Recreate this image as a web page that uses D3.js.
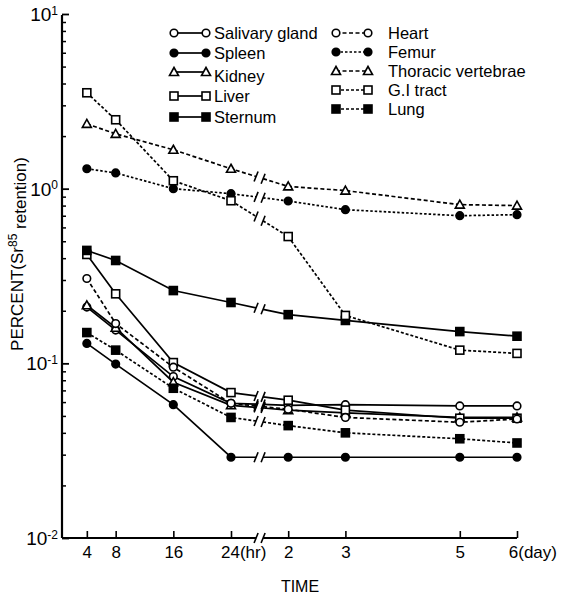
<!DOCTYPE html>
<html>
<head>
<meta charset="utf-8">
<script src="https://cdn.jsdelivr.net/npm/d3@7"></script>
<style>
  body { margin: 0; background: #fff; }
  text { font-family: "Liberation Sans", Arial, sans-serif; fill: #000; }
</style>
</head>
<body>
<svg id="chart" width="561" height="598"></svg>
<script>
// sampling times in hours (4,8,16,24 hr then 2,3,5,6 day)
var times = [4, 8, 16, 24, 48, 72, 120, 144];
var tickLabels = ["4", "8", "16", "24", "2", "3", "5", "6"];
var tickSuffix = ["", "", "", "(hr)", "", "", "", "(day)"];

var seriesNames = ["Salivary gland", "Spleen", "Kidney", "Liver", "Sternum",
                   "Heart", "Femur", "Thoracic vertebrae", "G.I tract", "Lung"];

var salivary = [0.21, 0.155, 0.084, 0.059, 0.0575, 0.058, 0.057, 0.057];
var spleen   = [0.13, 0.099, 0.058, 0.029, 0.029, 0.029, 0.029, 0.029];
var kidney   = [0.215, 0.16, 0.078, 0.0575, 0.054, 0.052, 0.049, 0.049];
var liver    = [0.42, 0.25, 0.101, 0.068, 0.0615, 0.054, 0.0485, 0.0485];
var sternum  = [0.443, 0.388, 0.261, 0.223, 0.19, 0.176, 0.152, 0.143];
var heart    = [0.306, 0.169, 0.095, 0.059, 0.0546, 0.049, 0.046, 0.048];
var femur    = [1.3, 1.23, 1.0, 0.936, 0.85, 0.758, 0.70, 0.71];
var thoracic = [2.35, 2.06, 1.67, 1.30, 1.03, 0.975, 0.81, 0.80];
var gitract  = [3.54, 2.48, 1.11, 0.853, 0.532, 0.188, 0.119, 0.114];
var lung     = [0.150, 0.119, 0.072, 0.049, 0.044, 0.040, 0.037, 0.035];

var seriesValues = [salivary, spleen, kidney, liver, sternum,
                    heart, femur, thoracic, gitract, lung];

// symbol / line style per series
var styles = [
  {sym: "circle", fill: "#fff", dash: null},
  {sym: "circle", fill: "#000", dash: null},
  {sym: "triangle", fill: "#fff", dash: null},
  {sym: "square", fill: "#fff", dash: null},
  {sym: "square", fill: "#000", dash: null},
  {sym: "circle", fill: "#fff", dash: "4,2.5"},
  {sym: "circle", fill: "#000", dash: "2.5,2"},
  {sym: "triangle", fill: "#fff", dash: "4,2.5"},
  {sym: "square", fill: "#fff", dash: "3,2"},
  {sym: "square", fill: "#000", dash: "3,2"}
];

var svg = d3.select("#chart");

// broken time axis: hours up to 24, then days
var x = d3.scaleLinear().domain([0, 24, 144]).range([58, 231, 517]);
var y = d3.scaleLog().domain([0.01, 10]).range([538, 14]);

var axisX0 = 62, axisY0 = 538;
var bx = (x(24) + x(48)) / 2;
var gap = 3.5;

function slash(g, cx, cy) {
  g.append("line")
    .attr("x1", cx - 2).attr("y1", cy + 5)
    .attr("x2", cx + 2).attr("y2", cy - 5)
    .attr("stroke", "#000").attr("stroke-width", 1.6);
}

// ---- y axis
var yMinor = [];
[0.01, 0.1, 1].forEach(function(d) {
  for (var m = 2; m <= 9; m++) yMinor.push(d * m);
});

svg.append("g")
  .attr("transform", "translate(" + axisX0 + ",0)")
  .call(d3.axisLeft(y).tickValues(yMinor).tickSizeInner(-4).tickSizeOuter(0).tickFormat(""))
  .call(function(g) { g.select(".domain").remove(); })
  .selectAll("line").attr("stroke-width", 1.5);

var yMajor = svg.append("g")
  .attr("transform", "translate(" + axisX0 + ",0)")
  .call(d3.axisLeft(y).tickValues([0.01, 0.1, 1, 10]).tickSizeInner(-7).tickSizeOuter(0).tickPadding(4));
yMajor.select(".domain").remove();
yMajor.selectAll("line").attr("stroke-width", 1.8);
yMajor.selectAll("text")
  .style("font-size", "19px")
  .attr("dy", "0.35em")
  .each(function(d) {
    var t = d3.select(this).text("");
    t.append("tspan").text("10");
    t.append("tspan").attr("dy", "-0.55em").style("font-size", "12px")
      .text(String(Math.round(Math.log10(d))));
  });

svg.append("line")
  .attr("x1", axisX0).attr("x2", axisX0)
  .attr("y1", y(10) + 1).attr("y2", axisY0)
  .attr("stroke", "#000").attr("stroke-width", 2.2);

// ---- x axis (drawn in two pieces around the break)
var xAxis = svg.append("g")
  .attr("transform", "translate(0," + axisY0 + ")")
  .call(d3.axisBottom(x).tickValues(times).tickSizeInner(-7).tickSizeOuter(0).tickPadding(8)
    .tickFormat(function(d, i) { return tickLabels[i]; }));
xAxis.select(".domain").remove();
xAxis.selectAll("line").attr("stroke-width", 1.6);
xAxis.selectAll("text")
  .style("font-size", "17px")
  .each(function(d, i) {
    if (tickSuffix[i]) {
      var t = d3.select(this);
      var w = this.getComputedTextLength();
      t.attr("text-anchor", "start").attr("x", -w / 2 - (i === 7 ? 4 : 1));
      t.append("tspan").text(tickSuffix[i]);
    }
  });

svg.append("line")
  .attr("x1", axisX0).attr("x2", bx - gap)
  .attr("y1", axisY0).attr("y2", axisY0)
  .attr("stroke", "#000").attr("stroke-width", 2.2);
svg.append("line")
  .attr("x1", bx + gap).attr("x2", x(144))
  .attr("y1", axisY0).attr("y2", axisY0)
  .attr("stroke", "#000").attr("stroke-width", 2.2);
slash(svg, bx - gap, axisY0);
slash(svg, bx + gap, axisY0);

// ---- axis titles
svg.append("text")
  .attr("x", 300).attr("y", 592)
  .attr("text-anchor", "middle")
  .style("font-size", "16px")
  .text("TIME");

var ylab = svg.append("text")
  .attr("transform", "translate(23,254) rotate(-90)")
  .attr("text-anchor", "middle")
  .style("font-size", "17px");
ylab.append("tspan").text("PERCENT(Sr");
ylab.append("tspan").attr("dy", "-0.5em").style("font-size", "12px").text("85");
ylab.append("tspan").attr("dy", "0.5em").text(" retention)");

// ---- markers
function drawSymbol(g, st, cx, cy) {
  var s;
  if (st.sym === "circle") {
    s = g.append("circle").attr("cx", cx).attr("cy", cy).attr("r", 3.8);
  } else if (st.sym === "square") {
    s = g.append("rect").attr("x", cx - 4).attr("y", cy - 4).attr("width", 8).attr("height", 8);
  } else {
    s = g.append("path").attr("d", "M" + cx + "," + (cy - 4.5) + "L" + (cx + 4.5) + "," + (cy + 3.5) + "L" + (cx - 4.5) + "," + (cy + 3.5) + "Z");
  }
  s.attr("fill", st.fill).attr("stroke", "#000").attr("stroke-width", 1.6);
}

// ---- series
var plot = svg.append("g");
var line = d3.line().x(function(d) { return d[0]; }).y(function(d) { return d[1]; });

seriesValues.forEach(function(vals, si) {
  var st = styles[si];
  var pts = vals.map(function(v, i) { return [x(times[i]), y(v)]; });
  var p24 = pts[3], p48 = pts[4];
  function yAt(px) { return p24[1] + (p48[1] - p24[1]) * (px - p24[0]) / (p48[0] - p24[0]); }
  var left = pts.slice(0, 4).concat([[bx - gap, yAt(bx - gap)]]);
  var right = [[bx + gap, yAt(bx + gap)]].concat(pts.slice(4));
  [left, right].forEach(function(seg) {
    plot.append("path")
      .attr("d", line(seg))
      .attr("fill", "none")
      .attr("stroke", "#000")
      .attr("stroke-width", 1.7)
      .attr("stroke-dasharray", st.dash);
  });
  slash(plot, bx - gap, yAt(bx - gap));
  slash(plot, bx + gap, yAt(bx + gap));
  pts.forEach(function(p) { drawSymbol(plot, st, p[0], p[1]); });
});

// ---- legend
var legendPos = [
  [174, 33], [174, 53], [174, 72], [174, 96], [174, 117],
  [336, 33], [336, 52], [336, 71], [336, 90], [336, 109]
];
var legend = svg.append("g");
seriesNames.forEach(function(name, i) {
  var st = styles[i];
  var lx = legendPos[i][0], ly = legendPos[i][1];
  legend.append("line")
    .attr("x1", lx).attr("x2", lx + 32)
    .attr("y1", ly).attr("y2", ly)
    .attr("stroke", "#000").attr("stroke-width", 1.7)
    .attr("stroke-dasharray", st.dash);
  drawSymbol(legend, st, lx, ly);
  drawSymbol(legend, st, lx + 32, ly);
  legend.append("text")
    .attr("x", i < 5 ? lx + 40 : lx + 52)
    .attr("y", ly + (i === 2 ? 10 : 6))
    .style("font-size", "16.5px")
    .text(name);
});
</script>
</body>
</html>
